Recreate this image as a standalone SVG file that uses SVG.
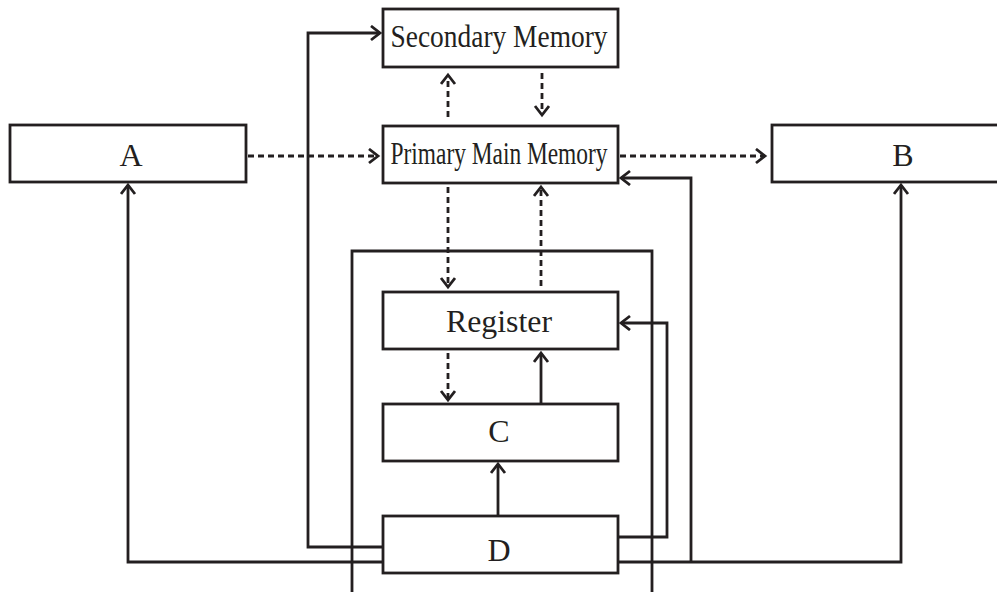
<svg xmlns="http://www.w3.org/2000/svg" width="997" height="592" viewBox="0 0 997 592">
<style>
.box{fill:#fff;stroke:#231f20;stroke-width:2.8}
.lbl{font-family:"Liberation Serif","Times New Roman",serif;font-size:32px;fill:#231f20;text-anchor:middle}
.ln{fill:none;stroke:#231f20;stroke-width:2.8}
.dash{stroke-dasharray:6 4}
</style>
<defs>
<marker id="ah" markerUnits="userSpaceOnUse" markerWidth="14" markerHeight="18" refX="10" refY="8" orient="auto">
<path d="M1,1 L10,8 L1,15" fill="none" stroke="#231f20" stroke-width="2.8"/>
</marker>
</defs>
<g id="cpu">
<path class="ln" d="M352,592 V251 H652 V592"/>
</g>
<g id="connectors">
<path class="ln dash" d="M448,117 V75" marker-end="url(#ah)"/>
<path class="ln dash" d="M542,73 V115" marker-end="url(#ah)"/>
<path class="ln dash" d="M248,156 H378" marker-end="url(#ah)"/>
<path class="ln dash" d="M620,156 H765" marker-end="url(#ah)"/>
<path class="ln dash" d="M448,187 V287" marker-end="url(#ah)"/>
<path class="ln dash" d="M541,286 V187" marker-end="url(#ah)"/>
<path class="ln dash" d="M448,353 V400" marker-end="url(#ah)"/>
<path class="ln" d="M541,404 V353" marker-end="url(#ah)"/>
<path class="ln" d="M498,516 V464" marker-end="url(#ah)"/>
<path class="ln" d="M383,547 H308 V33 H380" marker-end="url(#ah)"/>
<path class="ln" d="M383,562 H128 V185" marker-end="url(#ah)"/>
<path class="ln" d="M618,537 H667 V323 H621" marker-end="url(#ah)"/>
<path class="ln" d="M618,562 H901 V185" marker-end="url(#ah)"/>
<path class="ln" d="M691,562 V178 H621" marker-end="url(#ah)"/>
</g>
<g id="secondary-memory">
<rect class="box" x="383" y="9" width="235" height="58"/>
<text class="lbl" x="499" y="47" textLength="217" lengthAdjust="spacingAndGlyphs">Secondary Memory</text>
</g>
<g id="primary-main-memory">
<rect class="box" x="383" y="126" width="235" height="57"/>
<text class="lbl" x="499" y="164" textLength="217" lengthAdjust="spacingAndGlyphs">Primary Main Memory</text>
</g>
<g id="A">
<rect class="box" x="10" y="125" width="236" height="57"/>
<text class="lbl" x="131" y="166">A</text>
</g>
<g id="B">
<rect class="box" x="772" y="125" width="240" height="57"/>
<text class="lbl" x="903" y="166">B</text>
</g>
<g id="register">
<rect class="box" x="383" y="292" width="235" height="57"/>
<text class="lbl" x="499" y="332" textLength="106" lengthAdjust="spacingAndGlyphs">Register</text>
</g>
<g id="C">
<rect class="box" x="383" y="404" width="235" height="57"/>
<text class="lbl" x="499" y="442">C</text>
</g>
<g id="D">
<rect class="box" x="383" y="516" width="235" height="57"/>
<text class="lbl" x="499" y="561">D</text>
</g>
</svg>
